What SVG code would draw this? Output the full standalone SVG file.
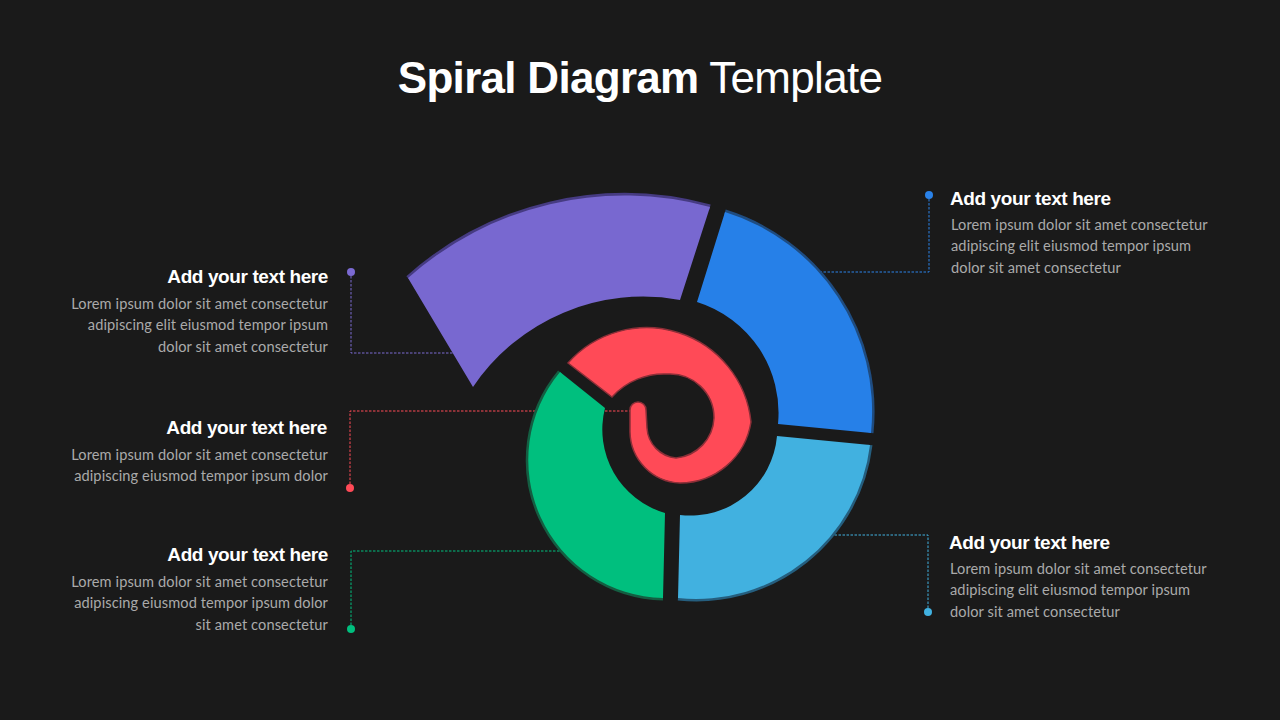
<svg xmlns="http://www.w3.org/2000/svg" width="1280" height="720" viewBox="0 0 1280 720">
<defs>
<style>
.bg{fill:#1a1a1a}
.title{font-family:"Liberation Sans",Arial,sans-serif;font-size:44px;fill:#ffffff;letter-spacing:-0.7px}
.head{font-family:"Liberation Sans",Arial,sans-serif;font-size:19px;font-weight:bold;fill:#ffffff;letter-spacing:-0.4px}
.body{font-family:Lato,"Open Sans",sans-serif;font-size:14.6px;fill:#aaaaaa;letter-spacing:0.1px}
.conn{fill:none;stroke-width:1;stroke-dasharray:2.5 1.5}
.edge{fill:none;stroke-width:5}
.end{text-anchor:end}
</style>
</defs>
<rect class="bg" x="0" y="0" width="1280" height="720"/>

<g id="title">
<text class="title" x="640" y="93" text-anchor="middle"><tspan font-weight="bold">Spiral Diagram</tspan> Template</text>
</g>

<g id="connectors">
<path class="conn" stroke="#7b6ad2" d="M351,272 V353 H455"/>
<circle cx="351" cy="272" r="4" fill="#7b6ad2"/>
<path class="conn" stroke="#2a82e8" d="M929,195 V272 H820"/>
<circle cx="929" cy="195" r="4" fill="#2a82e8"/>
<path class="conn" stroke="#ff4a57" d="M350,488 V411 H632"/>
<circle cx="350" cy="488" r="4" fill="#ff4a57"/>
<path class="conn" stroke="#00bf7e" d="M351,629 V551 H562"/>
<circle cx="351" cy="629" r="4" fill="#00bf7e"/>
<path class="conn" stroke="#41b1e0" d="M928,612 V535 H834"/>
<circle cx="928" cy="612" r="4" fill="#41b1e0"/>
</g>

<g id="node-purple">
<path class="edge" stroke="#463b82" d="M408,278 A325,325 0 0 1 710,207"/>
<path fill="#7868d0" d="M408,278 A325,325 0 0 1 710,207 L680,300 A205,205 0 0 0 473,387 Z"/>
<text class="head end" x="328" y="283">Add your text here</text>
<text class="body end" x="328" y="309">Lorem ipsum dolor sit amet consectetur</text>
<text class="body end" x="328" y="330">adipiscing elit eiusmod tempor ipsum</text>
<text class="body end" x="328" y="352">dolor sit amet consectetur</text>
</g>

<g id="node-blue">
<path class="edge" stroke="#1f4c80" d="M725,212 A209,209 0 0 1 871,433"/>
<path fill="#2680e8" d="M725,212 A209,209 0 0 1 871,433 L778,424 A116,116 0 0 0 697,302 Z"/>
<text class="head" x="950" y="205">Add your text here</text>
<text class="body" x="951" y="230">Lorem ipsum dolor sit amet consectetur</text>
<text class="body" x="951" y="251">adipiscing elit eiusmod tempor ipsum</text>
<text class="body" x="951" y="273">dolor sit amet consectetur</text>
</g>

<g id="node-lightblue">
<path class="edge" stroke="#255e7e" d="M870,445 A175,175 0 0 1 678,598"/>
<path fill="#41b1e0" d="M777,436 L870,445 A175,175 0 0 1 678,598 L680,515 A87,87 0 0 0 777,436 Z"/>
<text class="head" x="949" y="549">Add your text here</text>
<text class="body" x="950" y="574">Lorem ipsum dolor sit amet consectetur</text>
<text class="body" x="950" y="595">adipiscing elit eiusmod tempor ipsum</text>
<text class="body" x="950" y="617">dolor sit amet consectetur</text>
</g>

<g id="node-green">
<path class="edge" stroke="#145e42" d="M663,598 A138,138 0 0 1 560,372"/>
<path fill="#00bf7e" d="M560,372 L605,408 A87,87 0 0 0 665,513 L663,598 A138,138 0 0 1 560,372 Z"/>
<text class="head end" x="328" y="561">Add your text here</text>
<text class="body end" x="328" y="587">Lorem ipsum dolor sit amet consectetur</text>
<text class="body end" x="328" y="608">adipiscing eiusmod tempor ipsum dolor</text>
<text class="body end" x="328" y="630">sit amet consectetur</text>
</g>

<g id="node-red">
<path fill="#ff4a57" stroke="#8c2f38" stroke-width="1.5" d="M568,363 A105,105 0 0 1 751,422 A72,72 0 0 1 680,483 A52,52 0 0 1 630,432 L630,410 A8,8 0 0 1 646,410 L647,428 A32,32 0 0 0 676,458 A42,42 0 0 0 714,418 A44,44 0 0 0 668,374 A70,70 0 0 0 612,397 Z"/>
<text class="head end" x="327" y="434">Add your text here</text>
<text class="body end" x="328" y="460">Lorem ipsum dolor sit amet consectetur</text>
<text class="body end" x="328" y="481">adipiscing eiusmod tempor ipsum dolor</text>
</g>
</svg>
